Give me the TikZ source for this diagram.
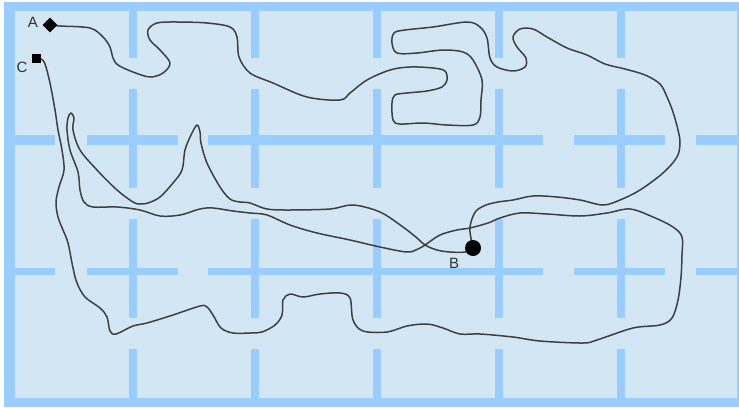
\documentclass[tikz,border=0pt]{standalone}
\usepackage{fontspec}
\setmainfont{Liberation Sans}
\usetikzlibrary{shapes.geometric,backgrounds}
\definecolor{wallc}{HTML}{99CCFF}
\definecolor{roomc}{HTML}{D2E6F4}
\definecolor{pathc}{HTML}{404040}
\definecolor{labc}{HTML}{333333}
\begin{document}
\begin{tikzpicture}[x=1pt,y=-1pt,
  route/.style={draw=pathc,line width=1.5pt,line join=round,line cap=round},
  lab/.style={text=labc,font=\fontsize{15}{17}\selectfont,inner sep=0pt},
  diamondmark/.style={diamond,fill=black,inner sep=0pt,minimum width=15pt,minimum height=15pt},
  squaremark/.style={rectangle,fill=black,inner sep=0pt,minimum size=9pt},
  circlemark/.style={circle,fill=black,inner sep=0pt,minimum size=16pt}]
\useasboundingbox (0,0) rectangle (739,407);
% markers and labels
\node[diamondmark] (A) at (50,25) {};
\node[squaremark] (C) at (36,58) {};
\node[circlemark] (B) at (473,248) {};
\node[lab] (lA) at (33,22) {A};
\node[lab] (lC) at (22,67) {C};
\node[lab] (lB) at (454,263) {B};
\begin{scope}[on background layer]
% floor and walls
\fill[white] (0,0) rectangle (739,407);
\fill[wallc] (4,2) rectangle (739,407);
\fill[roomc] (15,11) rectangle (736.5,398);
\foreach \x in {132.5,255,376.5,499,620.5}{
  \foreach \a/\b in {11/58,89/188,219/318,349/398}{
    \fill[wallc] (\x-4,\a) rectangle (\x+4,\b);}}
\foreach \y/\h in {140/5,271.5/3.8}{
  \foreach \a/\b in {15/55,87/178,208/543,574/665,696/736.5}{
    \fill[wallc] (\a,\y-\h) rectangle (\b,\y+\h);}}
% route from A to B
\draw[route] plot[smooth,tension=0.55] coordinates {(A.center) (60,26) (90,28) (103,37) (110,47) (113,58) (118,65) (133,72) (150,77) (163,73) (170,63) (160,50) (150,40) (148,30) (157,23) (177,22) (207,23) (230,27) (237,37) (239,57) (250,73) (273,83) (307,97) (340,100) (350,93) (367,80) (390,70) (410,67) (433,68) (445,71) (447,80) (442,87) (427,91) (407,93) (395,95) (392,103) (393,120) (400,124) (423,123) (447,125) (473,125) (480,117) (481,100) (482,80) (473,60) (463,52) (443,50) (417,53) (397,53) (392,43) (394,33) (405,30) (433,27) (467,22) (480,27) (487,38) (490,58) (497,67) (513,71) (525,67) (526,58) (517,47) (513,37) (520,29) (533,29) (547,37) (567,48) (587,55) (605,64) (625,69) (645,75) (660,84) (667,97) (673,112) (678,130) (680,143) (677,157) (663,173) (640,190) (620,200) (603,205) (580,200) (557,197) (533,196) (513,200) (498,202) (486,205) (476,211) (471,222) (470,232) (B.center)};
% route from C to B
\draw[route] plot[smooth,tension=0.55] coordinates {(C.center) (41,59) (45,64) (50,83) (55,110) (58,130) (62,150) (64,170) (59,187) (56,202) (58,217) (63,230) (68,243) (73,268) (77,283) (85,297) (100,308) (107,317) (110,331) (116,334) (133,326) (147,323) (173,315) (200,306) (207,307) (213,315) (221,328) (233,333) (250,333) (262,332) (275,325) (282,315) (283,300) (290,294) (303,297) (320,294) (340,293) (350,298) (353,320) (363,331) (387,332) (407,326) (427,324) (443,328) (460,334) (480,334) (513,337) (540,341) (583,343) (597,340) (633,328) (660,325) (672,318) (678,300) (681,277) (682,255) (682,237) (673,227) (653,217) (630,209) (607,213) (580,216) (547,214) (520,213) (500,218) (488,223) (470,228) (457,230) (440,235) (425,245) (418,249) (407,252) (380,247) (350,240) (317,233) (290,225) (267,215) (250,213) (233,211) (213,208) (200,209) (180,215) (160,216) (140,210) (117,207) (93,207) (84,202) (80,190) (78,172) (70,150) (67,130) (68,118) (71,113) (74,118) (73,130) (80,150) (97,170) (117,190) (133,202) (140,204) (148,203) (160,197) (173,183) (182,170) (185,150) (191,135) (197,125) (200,132) (201,143) (207,163) (220,187) (230,199) (240,202) (250,203) (267,209) (290,210) (330,209) (353,205) (380,212) (403,227) (417,238) (425,245) (437,250) (450,252) (465,252) (B.center)};
\end{scope}
\end{tikzpicture}
\end{document}
